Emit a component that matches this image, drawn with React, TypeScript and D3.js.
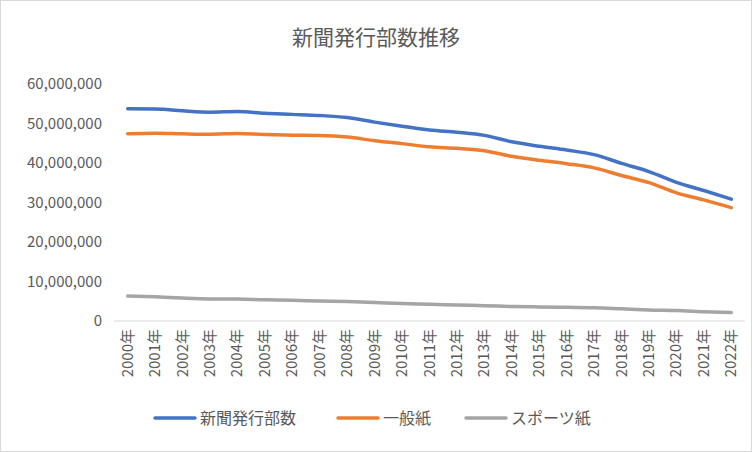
import * as d3 from 'd3'

const years = d3.range(2000, 2023).map(y => `${y}年`)
const total = [53708831, 53680753, 53198444, 52874959, 53021564, 52568032, 52310478, 52028671, 51491409, 50352831, 49321840, 48345304, 47777913, 46999468, 45362672, 44246688, 43276147, 42128189, 39901576, 37811248, 35091944, 33027135, 30846631]
const general = [47401669, 47559052, 47390027, 47282645, 47469987, 47189832, 47056527, 46963136, 46563681, 45659885, 44906720, 44091335, 43723161, 43126352, 41687125, 40691869, 39821106, 38763641, 36823021, 35037122, 32452536, 30657153, 28694915]
const sports = [6307162, 6121701, 5808417, 5592314, 5551577, 5378200, 5253951, 5065535, 4927728, 4692946, 4415120, 4253969, 4054752, 3873116, 3675547, 3554819, 3455041, 3364548, 3078555, 2774126, 2639408, 2369982, 2151716]
const yTicks = [0, 10000000, 20000000, 30000000, 40000000, 50000000, 60000000]

const series = [
  { name: '新聞発行部数', values: total, color: '#4472C4' },
  { name: '一般紙', values: general, color: '#ED7D31' },
  { name: 'スポーツ紙', values: sports, color: '#A5A5A5' },
]

const W = 752, H = 452
const font = '"Noto Sans CJK JP", "Noto Sans", sans-serif'

export default function App() {
  const x = d3.scaleBand().domain(years).range([114, 745])
  const y = d3.scaleLinear().domain([0, 60000000]).range([321, 84])
  const cx = (i: number) => (x(years[i]) || 0) + x.bandwidth() / 2
  const line = d3.line<number>().x((_, i) => cx(i)).y(d => y(d)).curve(d3.curveMonotoneX)
  const fmt = d3.format(',')
  const legendX = [155, 338, 466]

  return (
    <svg width={W} height={H} style={{ position: 'absolute', left: 0, top: 0 }} fontFamily={font}>
      <rect x={0.5} y={0.5} width={W - 1} height={H - 1} fill="#fff" stroke="#d9d9d9" />
      <text x={376} y={45} textAnchor="middle" fontSize={21} fill="#595959">新聞発行部数推移</text>
      {yTicks.map(t => (
        <text key={t} x={102} y={y(t) + 5} textAnchor="end" fontSize={15} fill="#595959">{fmt(t)}</text>
      ))}
      <line x1={114} x2={745} y1={y(0)} y2={y(0)} stroke="#d9d9d9" />
      {years.map((yr, i) => (
        <text key={yr} transform={`translate(${cx(i) + 5},${329}) rotate(-90)`} textAnchor="end" fontSize={15} fill="#595959">{yr}</text>
      ))}
      {series.map(s => (
        <path key={s.name} d={line(s.values) || ''} fill="none" stroke={s.color} strokeWidth={3.5} strokeLinecap="round" />
      ))}
      {series.map((s, i) => (
        <g key={s.name}>
          <line x1={legendX[i]} x2={legendX[i] + 40} y1={418} y2={418} stroke={s.color} strokeWidth={3.5} strokeLinecap="round" />
          <text x={legendX[i] + 45} y={424} fontSize={16} fill="#595959">{s.name}</text>
        </g>
      ))}
    </svg>
  )
}
